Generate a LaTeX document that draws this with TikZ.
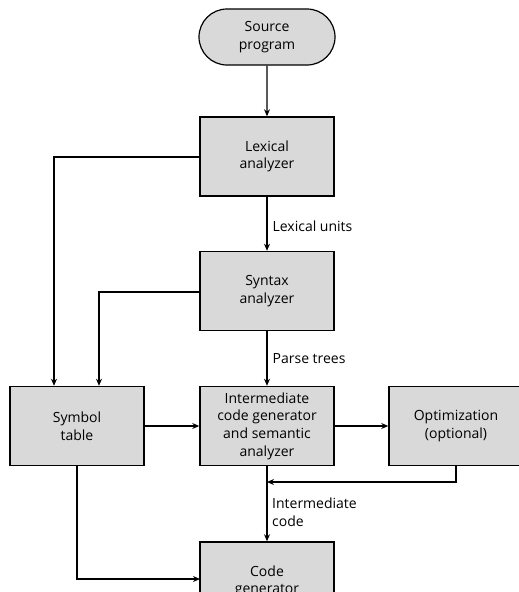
\documentclass[tikz,border=0pt]{standalone}
\usepackage{fontspec}
\setmainfont{Open Sans}
\usetikzlibrary{shapes.misc,arrows.meta}
\tikzset{
  x=1pt,y=-1pt,
  txt/.style={font=\fontsize{14}{17.7}\selectfont},
  box/.style={txt,draw=black,line width=1.5pt,fill=gray!30,minimum width=134pt,minimum height=79pt,align=center,inner sep=0pt},
  terminal/.style={txt,draw=black,line width=1.2pt,fill=gray!30,rounded rectangle,minimum width=136pt,minimum height=56pt,align=center,inner sep=0pt},
  conn/.style={line width=1.3pt,-{Stealth[length=7pt,width=6pt]}},
  lbl/.style={txt,align=left,inner sep=0pt,anchor=west}
}
\begin{document}
\begin{tikzpicture}
\useasboundingbox (0,0) rectangle (519,592);
\clip (0,0) rectangle (519,592);
\node[terminal] (src) at (267,37) {Source\\program};
\node[box] (lex) at (267,156.5) {Lexical\\analyzer};
\node[box] (syn) at (267,291) {Syntax\\analyzer};
\node[box] (sym) at (77,426) {Symbol\\table};
\node[box] (icg) at (267,426) {Intermediate\\code generator\\and semantic\\analyzer};
\node[box] (opt) at (456,426) {Optimization\\(optional)};
\node[box] (cg) at (267,581.5) {Code\\generator};
\coordinate (lexL) at (54,157);
\coordinate (synL) at (99,292);
\coordinate (icgJ) at (267,482);
\coordinate (cgJ) at (200,579);
\draw[conn] (src) -- (lex);
\draw[conn] (lex) -- node[lbl,pos=0.55,xshift=5pt]{Lexical units} (syn);
\draw[conn] (syn) -- node[lbl,pos=0.5,xshift=5pt]{Parse trees} (icg);
\draw[conn] (icg) -- (cg);
\node[lbl] (ic) at (272,512) {Intermediate\\code};
\draw[conn] (lex.west |- lexL) -| (sym.north -| lexL);
\draw[conn] (syn.west |- synL) -| (sym.north -| synL);
\draw[conn] (sym) -- (icg);
\draw[conn] (icg) -- (opt);
\draw[conn] (opt.south) |- (icgJ);
\draw[conn] (sym.south) |- (cgJ);
\end{tikzpicture}
\end{document}
